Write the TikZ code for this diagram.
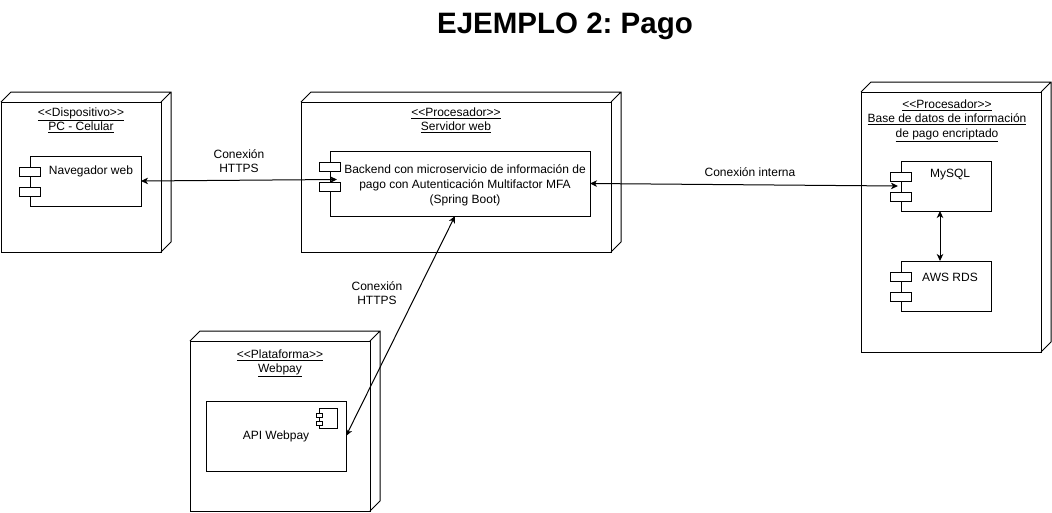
\documentclass[tikz,border=0pt]{standalone}
\usepackage{fontspec}
\setmainfont{Liberation Sans}
\usetikzlibrary{arrows.meta,positioning}
\frenchspacing

\newcommand{\stereo}[1]{<\kern0pt<#1>\kern0pt>}

\begin{document}
\begin{tikzpicture}[x=1pt,y=-1pt,line width=1pt,font=\fontsize{12}{14}\selectfont,
    box node/.style={draw,rectangle,inner sep=0,outer sep=0,fill=white},
    comp/.style={draw,rectangle,inner sep=0,outer sep=0},
    port/.style={draw,fill=white,minimum width=21pt,minimum height=9pt,inner sep=0},
    tab/.style={draw,fill=white,minimum width=6pt,minimum height=4pt,inner sep=0},
    ttl/.style={align=center,inner sep=0,font=\fontsize{12}{14.5}\selectfont},
    txt/.style={align=center,inner sep=0},
    conn/.style={<->,>={Stealth[length=7pt,width=6.5pt,inset=2pt]}}
    ]
  \useasboundingbox (0,0) rectangle (1052,512);

  \node[font=\bfseries\fontsize{29.5}{33}\selectfont,anchor=base] (title) at (565,33) {EJEMPLO 2: Pago};

  % nodos 3D
  \node[box node,minimum width=160pt,minimum height=150pt] (pc)  at (81,177)  {};
  \node[box node,minimum width=310pt,minimum height=150pt] (srv) at (456,177) {};
  \node[box node,minimum width=180pt,minimum height=260pt] (db)  at (951,222) {};
  \node[box node,minimum width=180pt,minimum height=170pt] (wp)  at (280,426) {};

  \foreach \n in {pc,srv,db,wp}
    \draw (\n.north west) -- ++(10pt,10pt) -| ([shift={(10pt,10pt)}]\n.south east) -- (\n.south east)
          (\n.north east) -- ++(10pt,10pt);

  \node[ttl,below=5pt of pc.north]  (pcttl)  {\underline{\stereo{Dispositivo}}\\\underline{PC - Celular}};
  \node[ttl,below=5pt of srv.north] (srvttl) {\underline{\stereo{Procesador}}\\\underline{Servidor web}};
  \node[ttl,below=7pt of db.north,xshift=-4pt] (dbttl) {\underline{\stereo{Procesador}}\\\underline{Base de datos de información}\\\underline{de pago encriptado}};
  \node[ttl,below=8pt of wp.north]  (wpttl)  {\underline{\stereo{Plataforma}}\\\underline{Webpay}};

  % componentes
  \node[comp,minimum width=111pt,minimum height=50pt] (nav)  at (85.5,181)  {};
  \node[comp,minimum width=260pt,minimum height=65pt] (back) at (460,183.5) {};
  \node[comp,minimum width=90pt,minimum height=50pt]  (sql)  at (946,186)   {};
  \node[comp,minimum width=90pt,minimum height=50pt]  (rds)  at (946,286)   {};
  \node[comp,minimum width=140pt,minimum height=70pt] (api)  at (276,436)   {API Webpay};

  \node[txt] (navtxt)  at ([xshift=5.5pt,yshift=-15pt]nav.north) {Navegador web};
  \node[txt,font=\fontsize{12}{15}\selectfont] (backtxt) at ([xshift=5pt,yshift=-1.5pt]back.center)
    {Backend con microservicio de información de\\pago con Autenticación Multifactor MFA\\(Spring Boot)};
  \node[txt] (sqltxt)  at ([xshift=4pt,yshift=-14pt]sql.north) {MySQL};
  \node[txt] (rdstxt)  at ([xshift=4pt,yshift=-16pt]rds.north) {AWS RDS};

  \foreach \c in {nav,back,sql,rds} {
    \node[port] (\c-a) at ([yshift=-16pt]\c.north west) {};
    \node[port] (\c-b) at ([yshift=-35.5pt]\c.north west) {};
  }

  \node[draw,fill=white,minimum width=18pt,minimum height=20pt,inner sep=0,below left=7pt and 8pt of api.north east] (apiico) {};
  \node[tab] (apitab1) at ([yshift=-7pt]apiico.north west) {};
  \node[tab] (apitab2) at ([yshift=-15pt]apiico.north west) {};

  % conexiones
  \draw[conn] (nav.east) -- node[txt,above=7pt] (lbl1) {Conexión\\HTTPS} ([xshift=7pt,yshift=4pt]back.west);
  \draw[conn] (back.east) -- node[txt,above=8pt,xshift=6pt] (lbl2) {Conexión interna} ([xshift=-3pt]sql.west);
  \draw[conn] ([xshift=-6pt]sql.south) -- ([xshift=-6pt]rds.north);
  \draw[conn] ([xshift=-5pt]back.south) -- node[txt,pos=0.35,left=14pt] (lbl3) {Conexión\\HTTPS} (api.east);
\end{tikzpicture}
\end{document}
